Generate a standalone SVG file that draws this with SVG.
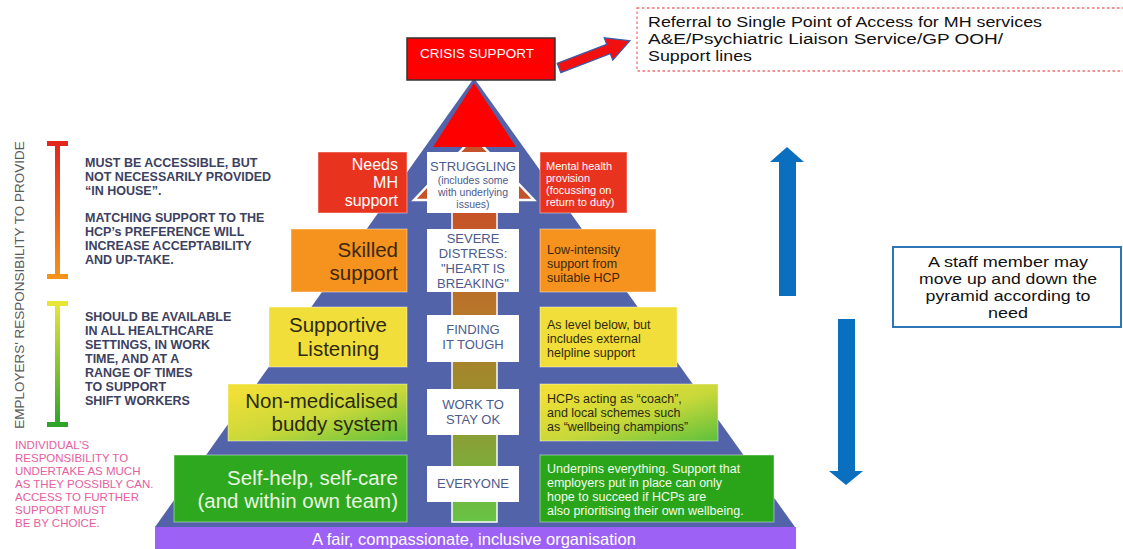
<svg xmlns="http://www.w3.org/2000/svg" width="1123" height="549" viewBox="0 0 1123 549">
  <defs>
    <linearGradient id="gBarRed" x1="0" y1="0" x2="0" y2="1">
      <stop offset="0" stop-color="#e3261e"/>
      <stop offset="1" stop-color="#f4921c"/>
    </linearGradient>
    <linearGradient id="gBarGreen" x1="0" y1="0" x2="0" y2="1">
      <stop offset="0" stop-color="#e9e63a"/>
      <stop offset="1" stop-color="#2ea42a"/>
    </linearGradient>
    <linearGradient id="gCol" gradientUnits="userSpaceOnUse" x1="0" y1="200" x2="0" y2="522">
      <stop offset="0" stop-color="#c84e26"/>
      <stop offset="0.35" stop-color="#b7772a"/>
      <stop offset="0.6" stop-color="#9b8d2c"/>
      <stop offset="0.8" stop-color="#82a83a"/>
      <stop offset="1" stop-color="#66c444"/>
    </linearGradient>
    <linearGradient id="gYG" x1="0" y1="0" x2="1" y2="1">
      <stop offset="0.1" stop-color="#f0df36"/>
      <stop offset="0.55" stop-color="#c8d83a"/>
      <stop offset="1" stop-color="#5cc03c"/>
    </linearGradient>
  </defs>
  <style>
    text { font-family: "Liberation Sans", Arial, sans-serif; }
    .lbl { font-weight: bold; font-size: 12.5px; fill: #3d4160; }
    .pink { font-size: 11.5px; fill: #e5609e; }
    .big { font-size: 20.5px; }
    .mid { font-size: 13px; fill: #4d5a8c; text-anchor: middle; }
    .small { font-size: 10.5px; fill: #4d5a8c; text-anchor: middle; }
    .rt { font-size: 12.5px; }
    .wbox { fill: #ffffff; }
    .edge { stroke: #ffffff; stroke-opacity: 0.45; stroke-width: 1; }
    .blue { fill: #0b6fc0; }
  </style>
  <rect width="1123" height="549" fill="#ffffff"/>

  <!-- pyramid background -->
  <g id="pyramid">
    <polygon points="474,78 155,527 795,527" fill="#5263a9"/>
  </g>

  <g id="connectors">
    <!-- central rising column -->
    <polygon points="414,200 474,137 534,200" fill="#c4532a" stroke="#ffffff" stroke-width="2.5"/>
    <rect x="452" y="200" width="45" height="322" fill="url(#gCol)" stroke="#ffffff" stroke-width="1.5"/>
    <!-- red arrow to referral -->
    <polygon transform="translate(559,68) rotate(-21)" points="0,-5 53,-5 53,-12 76,0 53,12 53,5 0,5" fill="#f01010" stroke="#3a5fa8" stroke-width="1.2"/>
    <!-- up / down arrows -->
    <polygon class="blue" points="779,296 779,162 770,162 787,147 804,162 796,162 796,296"/>
    <polygon class="blue" points="838,319 855,319 855,471 863,471 846,485 829,471 838,471"/>
  </g>

  <g id="crisis-peak">
    <polygon points="474,83 433,147 516,147" fill="#ff0000"/>
  </g>

  <g id="crisis">
    <rect x="407" y="38" width="148" height="42" fill="#ff0000" stroke="#333333" stroke-width="1.5"/>
    <text x="477" y="58" font-size="13.5" fill="#ffffff" text-anchor="middle">CRISIS SUPPORT</text>
  </g>

  <g id="referral">
    <rect x="637" y="8" width="490" height="63" fill="#ffffff" stroke="#f07070" stroke-width="1.3" stroke-dasharray="2.5,2.5"/>
    <text x="648" y="27" font-size="15.5" fill="#111111" textLength="394" lengthAdjust="spacingAndGlyphs">Referral to Single Point of Access for MH services</text>
    <text x="648" y="44" font-size="15.5" fill="#111111" textLength="355" lengthAdjust="spacingAndGlyphs">A&amp;E/Psychiatric Liaison Service/GP OOH/</text>
    <text x="648" y="61" font-size="15.5" fill="#111111" textLength="104" lengthAdjust="spacingAndGlyphs">Support lines</text>
  </g>

  <!-- level 5 -->
  <g id="needs-mh">
    <rect x="318" y="152" width="89" height="61" fill="#e8341f" class="edge"/>
    <text x="398" y="170" font-size="16" fill="#ffffff" text-anchor="end">Needs</text>
    <text x="398" y="188" font-size="16" fill="#ffffff" text-anchor="end">MH</text>
    <text x="398" y="206" font-size="16" fill="#ffffff" text-anchor="end">support</text>
  </g>
  <g id="struggling">
    <rect class="wbox" x="427" y="152" width="92" height="61"/>
    <text class="mid" x="473" y="171">STRUGGLING</text>
    <text class="small" x="473" y="184">(includes some</text>
    <text class="small" x="473" y="196">with underlying</text>
    <text class="small" x="473" y="208">issues)</text>
  </g>
  <g id="mh-provision">
    <rect x="540" y="152" width="87" height="61" fill="#e8341f" class="edge"/>
    <text x="546" y="170" font-size="11" fill="#ffffff">Mental health</text>
    <text x="546" y="182" font-size="11" fill="#ffffff">provision</text>
    <text x="546" y="194" font-size="11" fill="#ffffff">(focussing on</text>
    <text x="546" y="206" font-size="11" fill="#ffffff">return to duty)</text>
  </g>

  <!-- level 4 -->
  <g id="skilled">
    <rect x="291" y="229" width="116" height="63" fill="#f6921e" class="edge"/>
    <text class="big" x="398" y="257" fill="#3a2810" text-anchor="end">Skilled</text>
    <text class="big" x="398" y="280" fill="#3a2810" text-anchor="end">support</text>
  </g>
  <g id="severe">
    <rect class="wbox" x="427" y="229" width="92" height="63"/>
    <text class="mid" x="473" y="243">SEVERE</text>
    <text class="mid" x="473" y="258">DISTRESS:</text>
    <text class="mid" x="473" y="273">"HEART IS</text>
    <text class="mid" x="473" y="288">BREAKING"</text>
  </g>
  <g id="low-intensity">
    <rect x="540" y="229" width="116" height="63" fill="#f6921e" class="edge"/>
    <text class="rt" x="547" y="254" fill="#3a2810">Low-intensity</text>
    <text class="rt" x="547" y="268" fill="#3a2810">support from</text>
    <text class="rt" x="547" y="282" fill="#3a2810">suitable HCP</text>
  </g>

  <!-- level 3 -->
  <g id="supportive">
    <rect x="269" y="307" width="138" height="60" fill="#f2de3a" class="edge"/>
    <text class="big" x="338" y="332" fill="#2e2a10" text-anchor="middle">Supportive</text>
    <text class="big" x="338" y="356" fill="#2e2a10" text-anchor="middle">Listening</text>
  </g>
  <g id="finding">
    <rect class="wbox" x="427" y="315" width="92" height="47"/>
    <text class="mid" x="473" y="334" font-size="12.5">FINDING</text>
    <text class="mid" x="473" y="349" font-size="12.5">IT TOUGH</text>
  </g>
  <g id="helpline">
    <rect x="540" y="307" width="137" height="60" fill="#f2de3a" class="edge"/>
    <text class="rt" x="547" y="329" fill="#2e2a10">As level below, but</text>
    <text class="rt" x="547" y="343" fill="#2e2a10">includes external</text>
    <text class="rt" x="547" y="357" fill="#2e2a10">helpline support</text>
  </g>

  <!-- level 2 -->
  <g id="buddy">
    <rect x="228" y="384" width="179" height="57" fill="url(#gYG)" class="edge"/>
    <text class="big" x="398" y="408" fill="#2a2a10" text-anchor="end">Non-medicalised</text>
    <text class="big" x="398" y="431" fill="#2a2a10" text-anchor="end">buddy system</text>
  </g>
  <g id="work-ok">
    <rect class="wbox" x="427" y="389" width="92" height="46"/>
    <text class="mid" x="473" y="409" font-size="12.5">WORK TO</text>
    <text class="mid" x="473" y="424" font-size="12.5">STAY OK</text>
  </g>
  <g id="coach">
    <rect x="540" y="384" width="178" height="57" fill="url(#gYG)" class="edge"/>
    <text class="rt" x="547" y="403" fill="#2a2a10">HCPs acting as “coach”,</text>
    <text class="rt" x="547" y="417" fill="#2a2a10">and local schemes such</text>
    <text class="rt" x="547" y="431" fill="#2a2a10">as “wellbeing champions”</text>
  </g>

  <!-- level 1 -->
  <g id="self-help">
    <rect x="174" y="455" width="233" height="67" fill="#2ea81e" class="edge"/>
    <text x="398" y="485" font-size="20.5" fill="#eaf7e2" text-anchor="end">Self-help, self-care</text>
    <text x="398" y="508" font-size="20.5" fill="#eaf7e2" text-anchor="end">(and within own team)</text>
  </g>
  <g id="everyone">
    <rect class="wbox" x="427" y="466" width="92" height="36"/>
    <text class="mid" x="473" y="488" font-size="12.5">EVERYONE</text>
  </g>
  <g id="underpins">
    <rect x="540" y="455" width="234" height="67" fill="#2aa51a" class="edge"/>
    <text class="rt" x="547" y="473" fill="#f2fbec">Underpins everything. Support that</text>
    <text class="rt" x="547" y="487" fill="#f2fbec">employers put in place can only</text>
    <text class="rt" x="547" y="501" fill="#f2fbec">hope to succeed if HCPs are</text>
    <text class="rt" x="547" y="515" fill="#f2fbec">also prioritising their own wellbeing.</text>
  </g>

  <g id="foundation">
    <rect x="155" y="527" width="641" height="22" fill="#9d62f5"/>
    <text x="474" y="545" font-family="'Open Sans', sans-serif" font-size="16.5" fill="#ffffff" text-anchor="middle">A fair, compassionate, inclusive organisation</text>
  </g>

  <!-- left annotations -->
  <g id="employer-axis">
    <text transform="translate(24,285) rotate(-90)" font-size="13.5" fill="#5a5a5a" text-anchor="middle">EMPLOYERS' RESPONSIBILITY TO PROVIDE</text>
  </g>
  <g id="bracket-red">
    <rect x="55" y="143" width="5" height="134" fill="url(#gBarRed)"/>
    <rect x="47" y="141" width="21" height="5" fill="#e3261e"/>
    <rect x="47" y="274" width="21" height="5" fill="#f4921c"/>
  </g>
  <g id="text-accessible">
    <text class="lbl" x="85" y="167">MUST BE ACCESSIBLE, BUT</text>
    <text class="lbl" x="85" y="181">NOT NECESSARILY PROVIDED</text>
    <text class="lbl" x="85" y="195">“IN HOUSE”.</text>
    <text class="lbl" x="85" y="222">MATCHING SUPPORT TO THE</text>
    <text class="lbl" x="85" y="236">HCP’s PREFERENCE WILL</text>
    <text class="lbl" x="85" y="250">INCREASE ACCEPTABILITY</text>
    <text class="lbl" x="85" y="264">AND UP-TAKE.</text>
  </g>
  <g id="bracket-green">
    <rect x="55" y="303" width="5" height="122" fill="url(#gBarGreen)"/>
    <rect x="47" y="301" width="21" height="5" fill="#e9e63a"/>
    <rect x="47" y="422" width="21" height="5" fill="#2ea42a"/>
  </g>
  <g id="text-available">
    <text class="lbl" x="85" y="321">SHOULD BE AVAILABLE</text>
    <text class="lbl" x="85" y="335">IN ALL HEALTHCARE</text>
    <text class="lbl" x="85" y="349">SETTINGS, IN WORK</text>
    <text class="lbl" x="85" y="363">TIME, AND AT A</text>
    <text class="lbl" x="85" y="377">RANGE OF TIMES</text>
    <text class="lbl" x="85" y="391">TO SUPPORT</text>
    <text class="lbl" x="85" y="405">SHIFT WORKERS</text>
  </g>
  <g id="text-individual">
    <text class="pink" x="15" y="449">INDIVIDUAL’S</text>
    <text class="pink" x="15" y="462">RESPONSIBILITY TO</text>
    <text class="pink" x="15" y="475">UNDERTAKE AS MUCH</text>
    <text class="pink" x="15" y="488">AS THEY POSSIBLY CAN.</text>
    <text class="pink" x="15" y="501">ACCESS TO FURTHER</text>
    <text class="pink" x="15" y="514">SUPPORT MUST</text>
    <text class="pink" x="15" y="527">BE BY CHOICE.</text>
  </g>

  <g id="staff-note">
    <rect x="893" y="247" width="228" height="80" fill="#ffffff" stroke="#2e75b6" stroke-width="2"/>
    <text x="1008" y="267" font-size="15.5" fill="#111111" text-anchor="middle" textLength="160" lengthAdjust="spacingAndGlyphs">A staff member may</text>
    <text x="1008" y="284" font-size="15.5" fill="#111111" text-anchor="middle" textLength="178" lengthAdjust="spacingAndGlyphs">move up and down the</text>
    <text x="1008" y="301" font-size="15.5" fill="#111111" text-anchor="middle" textLength="165" lengthAdjust="spacingAndGlyphs">pyramid according to</text>
    <text x="1008" y="318" font-size="15.5" fill="#111111" text-anchor="middle" textLength="40" lengthAdjust="spacingAndGlyphs">need</text>
  </g>
</svg>
